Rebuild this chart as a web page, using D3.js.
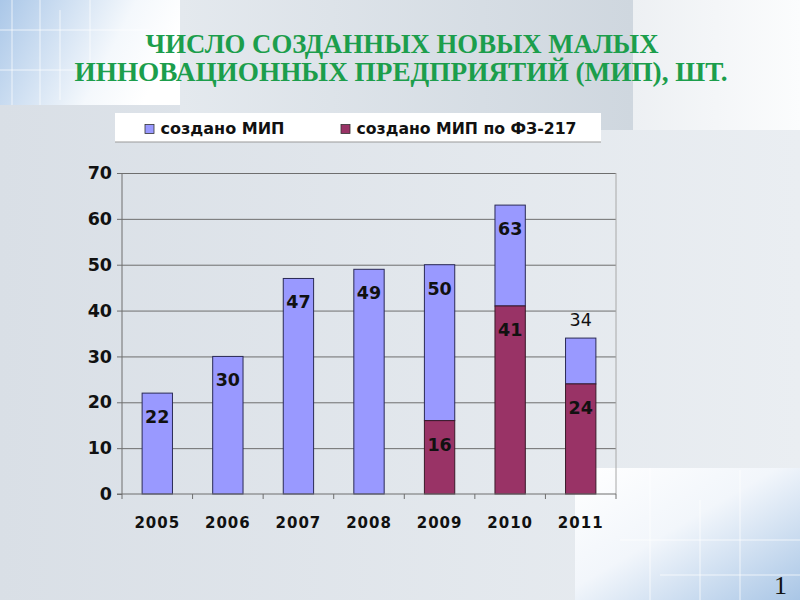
<!DOCTYPE html>
<html>
<head>
<meta charset="utf-8">
<script src="https://cdn.jsdelivr.net/npm/d3@7"></script>
<style>
  body { margin: 0; padding: 0; }
  svg { display: block; }
</style>
</head>
<body>
<svg id="slide" width="800" height="600"></svg>
<script>
// data
var years = ["2005", "2006", "2007", "2008", "2009", "2010", "2011"];
var total_mip = [22, 30, 47, 49, 50, 63, 34];      // создано МИП (всего)
var fz217_mip = [0, 0, 0, 0, 16, 41, 24];          // создано МИП по ФЗ-217
var y_ticks = [0, 10, 20, 30, 40, 50, 60, 70];
var legend_labels = ["создано МИП", "создано МИП по ФЗ-217"];
var title_lines = ["ЧИСЛО СОЗДАННЫХ НОВЫХ МАЛЫХ", "ИННОВАЦИОННЫХ ПРЕДПРИЯТИЙ (МИП), ШТ."];

var color = {mip: "#9999ff", fz: "#993366"};
var left = 122, right = 616, top_y = 173, bottom_y = 494;

var svg = d3.select("#slide");
var defs = svg.append("defs");

// ---- slide background ----
var g1 = defs.append("linearGradient").attr("id", "bg").attr("x1", 0).attr("x2", 1).attr("y1", 0).attr("y2", 0);
g1.append("stop").attr("offset", "0%").attr("stop-color", "#d9dfe6");
g1.append("stop").attr("offset", "100%").attr("stop-color", "#eaeef2");
var g2 = defs.append("linearGradient").attr("id", "band").attr("x1", 0).attr("x2", 1).attr("y1", 0).attr("y2", 0);
g2.append("stop").attr("offset", "0%").attr("stop-color", "#e4e9ee");
g2.append("stop").attr("offset", "100%").attr("stop-color", "#cfd7df");
var g3 = defs.append("linearGradient").attr("id", "tl").attr("x1", 0).attr("x2", 1).attr("y1", 0).attr("y2", 0.3);
g3.append("stop").attr("offset", "0%").attr("stop-color", "#aac7e8");
g3.append("stop").attr("offset", "70%").attr("stop-color", "#f4f8fc");
g3.append("stop").attr("offset", "100%").attr("stop-color", "#ffffff");
var g4 = defs.append("linearGradient").attr("id", "br").attr("x1", 0).attr("x2", 1).attr("y1", 0).attr("y2", 1);
g4.append("stop").attr("offset", "0%").attr("stop-color", "#ffffff");
g4.append("stop").attr("offset", "45%").attr("stop-color", "#f2f6fb");
g4.append("stop").attr("offset", "100%").attr("stop-color", "#a9c6e6");
var g5 = defs.append("linearGradient").attr("id", "tr").attr("x1", 0).attr("x2", 1).attr("y1", 0).attr("y2", 0);
g5.append("stop").attr("offset", "0%").attr("stop-color", "#edf0f3");
g5.append("stop").attr("offset", "100%").attr("stop-color", "#fbfcfd");

svg.append("rect").attr("width", 800).attr("height", 600).attr("fill", "url(#bg)");
svg.append("rect").attr("x", 180).attr("y", 0).attr("width", 453).attr("height", 130).attr("fill", "url(#band)");
svg.append("rect").attr("x", 633).attr("y", 0).attr("width", 167).attr("height", 130).attr("fill", "url(#tr)");
svg.append("rect").attr("x", 0).attr("y", 0).attr("width", 180).attr("height", 105).attr("fill", "url(#tl)");
svg.append("rect").attr("x", 575).attr("y", 468).attr("width", 225).attr("height", 132).attr("fill", "url(#br)");

// faint "circuit" lines in the corner pictures
var deco = svg.append("g").attr("stroke", "#ffffff").attr("stroke-opacity", 0.7).attr("stroke-width", 1);
[[12, 0, 12, 105], [40, 0, 40, 105], [60, 10, 60, 100], [0, 30, 150, 30], [0, 70, 120, 70], [90, 0, 90, 80]].forEach(function(l){
    deco.append("line").attr("x1", l[0]).attr("y1", l[1]).attr("x2", l[2]).attr("y2", l[3]);
});
[[650, 468, 650, 600], [700, 500, 700, 600], [740, 470, 740, 600], [620, 540, 800, 540], [660, 575, 800, 575]].forEach(function(l){
    deco.append("line").attr("x1", l[0]).attr("y1", l[1]).attr("x2", l[2]).attr("y2", l[3]);
});

// ---- title ----
var title = svg.append("g")
    .attr("font-family", "'Liberation Serif', 'Times New Roman', serif")
    .attr("font-weight", "bold")
    .attr("font-size", 27)
    .attr("fill", "#1c9e4c")
    .attr("text-anchor", "middle");
title.append("text").attr("x", 402).attr("y", 53)
    .attr("textLength", 513).attr("lengthAdjust", "spacingAndGlyphs").text(title_lines[0]);
title.append("text").attr("x", 401).attr("y", 81)
    .attr("textLength", 653).attr("lengthAdjust", "spacingAndGlyphs").text(title_lines[1]);

// ---- legend ----
var legend = svg.append("g");
legend.append("rect").attr("x", 115).attr("y", 113).attr("width", 486).attr("height", 29)
    .attr("fill", "#ffffff");
legend.append("line").attr("x1", 115).attr("x2", 601).attr("y1", 142).attr("y2", 142)
    .attr("stroke", "#9a9a9a").attr("stroke-width", 1.2);
var legend_x = [145, 341], legend_w = [124, 220];
[color.mip, color.fz].forEach(function(c, i){
    legend.append("rect").attr("x", legend_x[i]).attr("y", 124.5).attr("width", 9).attr("height", 9)
        .attr("fill", c).attr("stroke", "#333").attr("stroke-width", 0.8);
    legend.append("text").attr("x", legend_x[i] + 15.5).attr("y", 134)
        .attr("font-family", "'DejaVu Sans', Verdana, sans-serif")
        .attr("font-size", 15.5).attr("font-weight", "bold").attr("fill", "#111")
        .attr("textLength", legend_w[i]).attr("lengthAdjust", "spacingAndGlyphs")
        .text(legend_labels[i]);
});

// ---- chart ----
var x = d3.scaleBand().domain(years).range([left, right]).paddingInner(0.57).paddingOuter(0.285);
var y = d3.scaleLinear().domain([0, 70]).range([bottom_y, top_y]);

var chart = svg.append("g");

// grid lines
chart.append("g")
    .attr("transform", "translate(" + left + ",0)")
    .call(d3.axisLeft(y).tickValues(y_ticks.slice(1)).tickSize(-(right - left)).tickFormat(""))
    .call(function(g){ g.select(".domain").remove(); })
    .selectAll("line").attr("stroke", "#6e6e6e").attr("stroke-width", 1);

// right border of plot area
chart.append("line").attr("x1", right).attr("x2", right).attr("y1", y(70)).attr("y2", y(0))
    .attr("stroke", "#a8a8a8");

// rows: lower part = ФЗ-217, upper part = rest of the total
var rows = years.map(function(yr, i){
    return {year: yr, total: total_mip[i], fz: fz217_mip[i]};
});

var bars = chart.append("g").selectAll("g").data(rows).enter().append("g");
bars.append("rect")
    .attr("x", function(d){ return x(d.year); })
    .attr("width", x.bandwidth())
    .attr("y", function(d){ return y(d.total); })
    .attr("height", function(d){ return y(d.fz) - y(d.total); })
    .attr("fill", color.mip).attr("stroke", "#2a2a55").attr("stroke-width", 1);
bars.filter(function(d){ return d.fz > 0; }).append("rect")
    .attr("x", function(d){ return x(d.year); })
    .attr("width", x.bandwidth())
    .attr("y", function(d){ return y(d.fz); })
    .attr("height", function(d){ return y(0) - y(d.fz); })
    .attr("fill", color.fz).attr("stroke", "#3a1a2a").attr("stroke-width", 1);

// value labels
var lab_font = "'DejaVu Sans', Verdana, sans-serif";
bars.append("text")
    .attr("x", function(d){ return x(d.year) + x.bandwidth() / 2; })
    .attr("y", function(d){ return d.year === "2011" ? y(d.total) - 12 : y(d.total) + 30; })
    .attr("text-anchor", "middle")
    .attr("font-family", lab_font)
    .attr("font-size", 17.5)
    .attr("font-weight", function(d){ return d.year === "2011" ? "normal" : "bold"; })
    .attr("fill", "#111")
    .text(function(d){ return d.total; });
bars.filter(function(d){ return d.fz > 0; }).append("text")
    .attr("x", function(d){ return x(d.year) + x.bandwidth() / 2; })
    .attr("y", function(d){ return y(d.fz) + 30; })
    .attr("text-anchor", "middle")
    .attr("font-family", lab_font)
    .attr("font-size", 17.5)
    .attr("font-weight", "bold")
    .attr("fill", "#111")
    .text(function(d){ return d.fz; });

// y axis
var yAxis = chart.append("g")
    .attr("transform", "translate(" + left + ",0)")
    .call(d3.axisLeft(y).tickValues(y_ticks).tickSize(5).tickPadding(5));
yAxis.select(".domain").attr("stroke", "#6e6e6e").attr("d", "M0," + y(70) + "V" + y(0));
yAxis.selectAll(".tick line").attr("stroke", "#6e6e6e");
yAxis.selectAll("text")
    .attr("font-family", lab_font).attr("font-size", 17.5).attr("font-weight", "bold").attr("fill", "#111");

// x axis
var xAxis = chart.append("g")
    .attr("transform", "translate(0," + bottom_y + ")")
    .call(d3.axisBottom(x).tickSize(0).tickPadding(0));
xAxis.select(".domain").attr("stroke", "#6e6e6e").attr("d", "M" + (left - 5) + ",0H" + right);
xAxis.selectAll("text")
    .attr("y", 34).attr("dy", null)
    .attr("font-family", lab_font).attr("font-size", 15).attr("font-weight", "bold")
    .attr("letter-spacing", 1).attr("fill", "#111");
// category boundary ticks
var bounds = years.map(function(yr){ return x(yr) - x.step() * x.paddingInner() / 2; }).concat([right]);
xAxis.selectAll(".bound").data(bounds).enter().append("line").attr("class", "bound")
    .attr("x1", function(d){ return d; }).attr("x2", function(d){ return d; })
    .attr("y1", 0).attr("y2", 5).attr("stroke", "#6e6e6e");

// slide number
svg.append("text").attr("x", 774).attr("y", 594)
    .attr("font-family", "'Liberation Serif', serif").attr("font-size", 26).attr("fill", "#111")
    .text("1");
</script>
</body>
</html>
